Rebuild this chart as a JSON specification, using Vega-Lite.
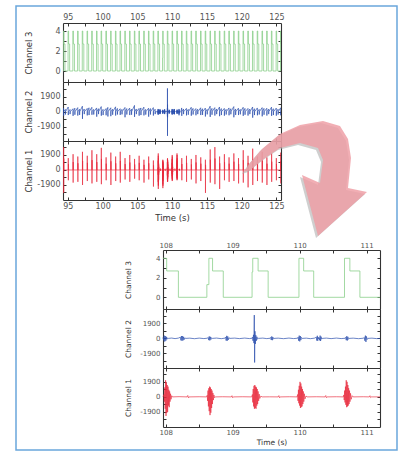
{
"$schema": "https://vega.github.io/schema/vega-lite/v6.json",
"padding": {"left": 15, "top": 5, "right": 9, "bottom": 2},
"background": "white",
"config": {
  "view": {"stroke": null},
  "axis": {"labelFont": "DejaVu Sans", "titleFont": "DejaVu Sans", "labelColor": "#555", "titleColor": "#333", "titleFontWeight": "normal", "tickColor": "#333", "tickSize": -3, "tickWidth": 1, "domain": true, "domainColor": "#333", "domainWidth": 1.1, "grid": false, "labelFlush": false, "labelOverlap": false, "labelFontSize": 8, "titleFontSize": 8.5}
},
"datasets": {
"ch3": [{"t":94.3,"v":0},
{"t":94.36,"v":4},{"t":94.435,"v":2.7},{"t":94.585,"v":0},
{"t":95.03,"v":4},{"t":95.105,"v":2.7},{"t":95.255,"v":0},
{"t":95.72,"v":4},{"t":95.795,"v":2.7},{"t":95.945,"v":0},
{"t":96.4,"v":4},{"t":96.475,"v":2.7},{"t":96.625,"v":0},
{"t":97.07,"v":4},{"t":97.145,"v":2.7},{"t":97.295,"v":0},
{"t":97.76,"v":4},{"t":97.835,"v":2.7},{"t":97.985,"v":0},
{"t":98.43,"v":4},{"t":98.505,"v":2.7},{"t":98.655,"v":0},
{"t":99.12,"v":4},{"t":99.195,"v":2.7},{"t":99.345,"v":0},
{"t":99.78,"v":4},{"t":99.855,"v":2.7},{"t":100.005,"v":0},
{"t":100.47,"v":4},{"t":100.545,"v":2.7},{"t":100.695,"v":0},
{"t":101.15,"v":4},{"t":101.225,"v":2.7},{"t":101.375,"v":0},
{"t":101.84,"v":4},{"t":101.915,"v":2.7},{"t":102.065,"v":0},
{"t":102.5,"v":4},{"t":102.575,"v":2.7},{"t":102.725,"v":0},
{"t":103.19,"v":4},{"t":103.265,"v":2.7},{"t":103.415,"v":0},
{"t":103.87,"v":4},{"t":103.945,"v":2.7},{"t":104.095,"v":0},
{"t":104.56,"v":4},{"t":104.635,"v":2.7},{"t":104.785,"v":0},
{"t":105.22,"v":4},{"t":105.295,"v":2.7},{"t":105.445,"v":0},
{"t":105.91,"v":4},{"t":105.985,"v":2.7},{"t":106.135,"v":0},
{"t":106.59,"v":4},{"t":106.665,"v":2.7},{"t":106.815,"v":0},
{"t":107.27,"v":4},{"t":107.345,"v":2.7},{"t":107.495,"v":0},
{"t":107.95,"v":4},{"t":107.96,"v":4},{"t":108.015,"v":2.7},{"t":108.19,"v":0},
{"t":108.615,"v":1.3},{"t":108.645,"v":4},{"t":108.7,"v":2.7},{"t":108.86,"v":0},
{"t":109.29,"v":2.6},{"t":109.3,"v":4},{"t":109.38,"v":2.7},{"t":109.53,"v":0},
{"t":109.99,"v":4},{"t":110.06,"v":2.7},{"t":110.21,"v":0},
{"t":110.67,"v":4},{"t":110.75,"v":2.7},{"t":110.9,"v":0},{"t":111.2,"v":0},
{"t":111.35,"v":4},{"t":111.425,"v":2.7},{"t":111.575,"v":0},
{"t":112.03,"v":4},{"t":112.105,"v":2.7},{"t":112.255,"v":0},
{"t":112.72,"v":4},{"t":112.795,"v":2.7},{"t":112.945,"v":0},
{"t":113.39,"v":4},{"t":113.465,"v":2.7},{"t":113.615,"v":0},
{"t":114.08,"v":4},{"t":114.155,"v":2.7},{"t":114.305,"v":0},
{"t":114.75,"v":4},{"t":114.825,"v":2.7},{"t":114.975,"v":0},
{"t":115.44,"v":4},{"t":115.515,"v":2.7},{"t":115.665,"v":0},
{"t":116.11,"v":4},{"t":116.185,"v":2.7},{"t":116.335,"v":0},
{"t":116.79,"v":4},{"t":116.865,"v":2.7},{"t":117.015,"v":0},
{"t":117.48,"v":4},{"t":117.555,"v":2.7},{"t":117.705,"v":0},
{"t":118.15,"v":4},{"t":118.225,"v":2.7},{"t":118.375,"v":0},
{"t":118.84,"v":4},{"t":118.915,"v":2.7},{"t":119.065,"v":0},
{"t":119.51,"v":4},{"t":119.585,"v":2.7},{"t":119.735,"v":0},
{"t":120.19,"v":4},{"t":120.265,"v":2.7},{"t":120.415,"v":0},
{"t":120.88,"v":4},{"t":120.955,"v":2.7},{"t":121.105,"v":0},
{"t":121.55,"v":4},{"t":121.625,"v":2.7},{"t":121.775,"v":0},
{"t":122.23,"v":4},{"t":122.305,"v":2.7},{"t":122.455,"v":0},
{"t":122.92,"v":4},{"t":122.995,"v":2.7},{"t":123.145,"v":0},
{"t":123.59,"v":4},{"t":123.665,"v":2.7},{"t":123.815,"v":0},
{"t":124.27,"v":4},{"t":124.345,"v":2.7},{"t":124.495,"v":0},
{"t":124.95,"v":4},{"t":125.025,"v":2.7},{"t":125.175,"v":0},
{"t":125.58,"v":4},{"t":125.655,"v":2.7},{"t":125.805,"v":0}],
"ch2": [{"t":94.3,"v":0},
{"t":94.38,"v":450},{"t":94.39,"v":-500},{"t":94.4,"v":0},{"t":94.64,"v":300},{"t":94.65,"v":-350},{"t":94.66,"v":0},
{"t":95.05,"v":600},{"t":95.06,"v":-420},{"t":95.07,"v":0},{"t":95.31,"v":280},{"t":95.32,"v":-300},{"t":95.33,"v":0},
{"t":95.74,"v":380},{"t":95.75,"v":-520},{"t":95.76,"v":0},{"t":96.0,"v":450},{"t":96.01,"v":-380},{"t":96.02,"v":0},
{"t":96.42,"v":520},{"t":96.43,"v":-480},{"t":96.44,"v":0},{"t":96.68,"v":320},{"t":96.69,"v":-400},{"t":96.7,"v":0},
{"t":97.09,"v":700},{"t":97.1,"v":-900},{"t":97.11,"v":0},{"t":97.35,"v":350},{"t":97.36,"v":-300},{"t":97.37,"v":0},
{"t":97.78,"v":420},{"t":97.79,"v":-460},{"t":97.8,"v":0},{"t":98.04,"v":500},{"t":98.05,"v":-420},{"t":98.06,"v":0},
{"t":98.45,"v":560},{"t":98.46,"v":-380},{"t":98.47,"v":0},{"t":98.71,"v":300},{"t":98.72,"v":-350},{"t":98.73,"v":0},
{"t":99.14,"v":480},{"t":99.15,"v":-620},{"t":99.16,"v":0},{"t":99.4,"v":380},{"t":99.41,"v":-300},{"t":99.42,"v":0},
{"t":99.8,"v":650},{"t":99.81,"v":-500},{"t":99.82,"v":0},{"t":100.06,"v":300},{"t":100.07,"v":-420},{"t":100.08,"v":0},
{"t":100.49,"v":400},{"t":100.5,"v":-450},{"t":100.51,"v":0},{"t":100.75,"v":550},{"t":100.76,"v":-600},{"t":100.77,"v":0},
{"t":101.17,"v":500},{"t":101.18,"v":-560},{"t":101.19,"v":0},{"t":101.43,"v":320},{"t":101.44,"v":-380},{"t":101.45,"v":0},
{"t":101.86,"v":620},{"t":101.87,"v":-480},{"t":101.88,"v":0},{"t":102.12,"v":420},{"t":102.13,"v":-350},{"t":102.14,"v":0},
{"t":102.52,"v":380},{"t":102.53,"v":-400},{"t":102.54,"v":0},{"t":102.78,"v":300},{"t":102.79,"v":-330},{"t":102.8,"v":0},
{"t":103.21,"v":540},{"t":103.22,"v":-700},{"t":103.23,"v":0},{"t":103.47,"v":400},{"t":103.48,"v":-350},{"t":103.49,"v":0},
{"t":103.89,"v":460},{"t":103.9,"v":-420},{"t":103.91,"v":0},{"t":104.15,"v":330},{"t":104.16,"v":-380},{"t":104.17,"v":0},
{"t":104.58,"v":800},{"t":104.59,"v":-650},{"t":104.6,"v":0},{"t":104.84,"v":350},{"t":104.85,"v":-300},{"t":104.86,"v":0},
{"t":105.24,"v":420},{"t":105.25,"v":-500},{"t":105.26,"v":0},{"t":105.5,"v":480},{"t":105.51,"v":-420},{"t":105.52,"v":0},
{"t":105.93,"v":580},{"t":105.94,"v":-460},{"t":105.95,"v":0},{"t":106.19,"v":300},{"t":106.2,"v":-360},{"t":106.21,"v":0},
{"t":106.61,"v":450},{"t":106.62,"v":-620},{"t":106.63,"v":0},{"t":106.87,"v":400},{"t":106.88,"v":-350},{"t":106.89,"v":0},
{"t":107.29,"v":520},{"t":107.3,"v":-480},{"t":107.31,"v":0},{"t":107.55,"v":320},{"t":107.56,"v":-300},{"t":107.57,"v":0},
{"t":107.9,"v":0},{"t":107.96,"v":0},
{"t":107.962,"v":100},{"t":107.97,"v":-250},{"t":107.978,"v":350},{"t":107.986,"v":-400},{"t":107.994,"v":300},{"t":108.002,"v":-300},{"t":108.01,"v":200},{"t":108.018,"v":-120},{"t":108.028,"v":60},{"t":108.04,"v":0},
{"t":108.09,"v":40},{"t":108.14,"v":-30},{"t":108.19,"v":35},
{"t":108.22,"v":150},{"t":108.228,"v":-250},{"t":108.236,"v":300},{"t":108.244,"v":-300},{"t":108.252,"v":280},{"t":108.26,"v":-250},{"t":108.268,"v":200},{"t":108.277,"v":-150},{"t":108.287,"v":60},{"t":108.3,"v":0},
{"t":108.36,"v":30},{"t":108.43,"v":-40},{"t":108.5,"v":35},{"t":108.57,"v":-25},{"t":108.62,"v":20},
{"t":108.635,"v":120},{"t":108.643,"v":-220},{"t":108.651,"v":250},{"t":108.659,"v":-260},{"t":108.667,"v":200},{"t":108.675,"v":-150},{"t":108.685,"v":80},{"t":108.697,"v":0},
{"t":108.76,"v":40},{"t":108.83,"v":-35},{"t":108.885,"v":30},
{"t":108.895,"v":150},{"t":108.903,"v":-280},{"t":108.911,"v":320},{"t":108.919,"v":-300},{"t":108.927,"v":250},{"t":108.935,"v":-180},{"t":108.945,"v":90},{"t":108.957,"v":0},
{"t":109.03,"v":35},{"t":109.1,"v":-30},{"t":109.18,"v":40},{"t":109.25,"v":-25},{"t":109.29,"v":20},
{"t":109.297,"v":150},{"t":109.304,"v":-300},{"t":109.311,"v":450},{"t":109.318,"v":-600},{"t":109.323,"v":2950},{"t":109.328,"v":-3050},{"t":109.333,"v":900},{"t":109.339,"v":-700},{"t":109.346,"v":400},{"t":109.354,"v":-300},{"t":109.362,"v":200},{"t":109.372,"v":-100},{"t":109.385,"v":0},
{"t":109.45,"v":35},{"t":109.51,"v":-30},{"t":109.56,"v":20},
{"t":109.568,"v":120},{"t":109.576,"v":-200},{"t":109.584,"v":250},{"t":109.592,"v":-230},{"t":109.6,"v":170},{"t":109.609,"v":-100},{"t":109.62,"v":0},
{"t":109.68,"v":30},{"t":109.76,"v":-35},{"t":109.84,"v":40},{"t":109.91,"v":-25},{"t":109.97,"v":20},
{"t":109.978,"v":150},{"t":109.986,"v":-300},{"t":109.994,"v":350},{"t":110.002,"v":-380},{"t":110.01,"v":300},{"t":110.018,"v":-220},{"t":110.027,"v":120},{"t":110.038,"v":0},
{"t":110.1,"v":30},{"t":110.16,"v":-35},{"t":110.22,"v":25},
{"t":110.25,"v":150},{"t":110.257,"v":-280},{"t":110.264,"v":330},{"t":110.271,"v":-300},{"t":110.278,"v":150},{"t":110.285,"v":-60},{"t":110.292,"v":80},{"t":110.299,"v":-250},{"t":110.306,"v":350},{"t":110.313,"v":-330},{"t":110.32,"v":220},{"t":110.328,"v":-100},{"t":110.338,"v":0},
{"t":110.4,"v":35},{"t":110.47,"v":-30},{"t":110.55,"v":40},{"t":110.62,"v":-25},{"t":110.68,"v":15},
{"t":110.688,"v":130},{"t":110.696,"v":-230},{"t":110.704,"v":280},{"t":110.712,"v":-270},{"t":110.72,"v":200},{"t":110.729,"v":-120},{"t":110.74,"v":0},
{"t":110.8,"v":30},{"t":110.88,"v":-35},{"t":110.95,"v":20},
{"t":110.966,"v":120},{"t":110.974,"v":-300},{"t":110.982,"v":350},{"t":110.99,"v":-450},{"t":110.998,"v":250},{"t":111.007,"v":-150},{"t":111.018,"v":0},
{"t":111.08,"v":30},{"t":111.15,"v":-30},{"t":111.2,"v":-10},{"t":111.25,"v":0},
{"t":111.37,"v":480},{"t":111.38,"v":-520},{"t":111.39,"v":0},{"t":111.63,"v":350},{"t":111.64,"v":-300},{"t":111.65,"v":0},
{"t":112.05,"v":420},{"t":112.06,"v":-460},{"t":112.07,"v":0},{"t":112.31,"v":300},{"t":112.32,"v":-380},{"t":112.33,"v":0},
{"t":112.74,"v":560},{"t":112.75,"v":-500},{"t":112.76,"v":0},{"t":113.0,"v":420},{"t":113.01,"v":-350},{"t":113.02,"v":0},
{"t":113.41,"v":400},{"t":113.42,"v":-450},{"t":113.43,"v":0},{"t":113.67,"v":320},{"t":113.68,"v":-300},{"t":113.69,"v":0},
{"t":114.1,"v":500},{"t":114.11,"v":-420},{"t":114.12,"v":0},{"t":114.36,"v":380},{"t":114.37,"v":-400},{"t":114.38,"v":0},
{"t":114.77,"v":460},{"t":114.78,"v":-600},{"t":114.79,"v":0},{"t":115.03,"v":300},{"t":115.04,"v":-330},{"t":115.05,"v":0},
{"t":115.46,"v":700},{"t":115.47,"v":-650},{"t":115.48,"v":0},{"t":115.72,"v":420},{"t":115.73,"v":-380},{"t":115.74,"v":0},
{"t":116.13,"v":520},{"t":116.14,"v":-480},{"t":116.15,"v":0},{"t":116.39,"v":350},{"t":116.4,"v":-300},{"t":116.41,"v":0},
{"t":116.81,"v":600},{"t":116.82,"v":-560},{"t":116.83,"v":0},{"t":117.07,"v":400},{"t":117.08,"v":-420},{"t":117.09,"v":0},
{"t":117.5,"v":420},{"t":117.51,"v":-500},{"t":117.52,"v":0},{"t":117.76,"v":300},{"t":117.77,"v":-350},{"t":117.78,"v":0},
{"t":118.17,"v":480},{"t":118.18,"v":-450},{"t":118.19,"v":0},{"t":118.43,"v":380},{"t":118.44,"v":-320},{"t":118.45,"v":0},
{"t":118.86,"v":650},{"t":118.87,"v":-700},{"t":118.88,"v":0},{"t":119.12,"v":350},{"t":119.13,"v":-400},{"t":119.14,"v":0},
{"t":119.53,"v":450},{"t":119.54,"v":-420},{"t":119.55,"v":0},{"t":119.79,"v":300},{"t":119.8,"v":-330},{"t":119.81,"v":0},
{"t":120.21,"v":560},{"t":120.22,"v":-520},{"t":120.23,"v":0},{"t":120.47,"v":420},{"t":120.48,"v":-380},{"t":120.49,"v":0},
{"t":120.9,"v":420},{"t":120.91,"v":-480},{"t":120.92,"v":0},{"t":121.16,"v":330},{"t":121.17,"v":-300},{"t":121.18,"v":0},
{"t":121.57,"v":600},{"t":121.58,"v":-750},{"t":121.59,"v":0},{"t":121.83,"v":380},{"t":121.84,"v":-420},{"t":121.85,"v":0},
{"t":122.25,"v":480},{"t":122.26,"v":-450},{"t":122.27,"v":0},{"t":122.51,"v":300},{"t":122.52,"v":-350},{"t":122.53,"v":0},
{"t":122.94,"v":520},{"t":122.95,"v":-580},{"t":122.96,"v":0},{"t":123.2,"v":420},{"t":123.21,"v":-380},{"t":123.22,"v":0},
{"t":123.61,"v":440},{"t":123.62,"v":-480},{"t":123.63,"v":0},{"t":123.87,"v":330},{"t":123.88,"v":-300},{"t":123.89,"v":0},
{"t":124.29,"v":580},{"t":124.3,"v":-520},{"t":124.31,"v":0},{"t":124.55,"v":380},{"t":124.56,"v":-420},{"t":124.57,"v":0},
{"t":124.97,"v":460},{"t":124.98,"v":-500},{"t":124.99,"v":0},{"t":125.23,"v":320},{"t":125.24,"v":-350},{"t":125.25,"v":0},
{"t":125.6,"v":500},{"t":125.61,"v":-450},{"t":125.62,"v":0},{"t":125.7,"v":0}],
"ch1": [{"t":94.3,"v":0},
{"t":94.38,"v":0},{"t":94.39,"v":2900},{"t":94.4,"v":-2900},{"t":94.41,"v":1450},{"t":94.43,"v":0},
{"t":95.05,"v":0},{"t":95.06,"v":1500},{"t":95.07,"v":-1300},{"t":95.08,"v":750},{"t":95.1,"v":0},
{"t":95.74,"v":0},{"t":95.75,"v":2000},{"t":95.76,"v":-1600},{"t":95.77,"v":1000},{"t":95.79,"v":0},
{"t":96.42,"v":0},{"t":96.43,"v":1700},{"t":96.44,"v":-1500},{"t":96.45,"v":850},{"t":96.47,"v":0},
{"t":97.09,"v":0},{"t":97.1,"v":2300},{"t":97.11,"v":-1900},{"t":97.12,"v":1150},{"t":97.14,"v":0},
{"t":97.78,"v":0},{"t":97.79,"v":1800},{"t":97.8,"v":-1400},{"t":97.81,"v":900},{"t":97.83,"v":0},
{"t":98.45,"v":0},{"t":98.46,"v":2500},{"t":98.47,"v":-1700},{"t":98.48,"v":1250},{"t":98.5,"v":0},
{"t":99.14,"v":0},{"t":99.15,"v":2000},{"t":99.16,"v":-1500},{"t":99.17,"v":1000},{"t":99.19,"v":0},
{"t":99.8,"v":0},{"t":99.81,"v":2800},{"t":99.82,"v":-1800},{"t":99.83,"v":1400},{"t":99.85,"v":0},
{"t":100.49,"v":0},{"t":100.5,"v":1600},{"t":100.51,"v":-1300},{"t":100.52,"v":800},{"t":100.54,"v":0},
{"t":101.17,"v":0},{"t":101.18,"v":2200},{"t":101.19,"v":-1900},{"t":101.2,"v":1100},{"t":101.22,"v":0},
{"t":101.86,"v":0},{"t":101.87,"v":1700},{"t":101.88,"v":-1400},{"t":101.89,"v":850},{"t":101.91,"v":0},
{"t":102.52,"v":0},{"t":102.53,"v":2300},{"t":102.54,"v":-1600},{"t":102.55,"v":1150},{"t":102.57,"v":0},
{"t":103.21,"v":0},{"t":103.22,"v":1500},{"t":103.23,"v":-1200},{"t":103.24,"v":750},{"t":103.26,"v":0},
{"t":103.89,"v":0},{"t":103.9,"v":1900},{"t":103.91,"v":-1500},{"t":103.92,"v":950},{"t":103.94,"v":0},
{"t":104.58,"v":0},{"t":104.59,"v":1400},{"t":104.6,"v":-1100},{"t":104.61,"v":700},{"t":104.63,"v":0},
{"t":105.24,"v":0},{"t":105.25,"v":1800},{"t":105.26,"v":-1300},{"t":105.27,"v":900},{"t":105.29,"v":0},
{"t":105.93,"v":0},{"t":105.94,"v":1300},{"t":105.95,"v":-1600},{"t":105.96,"v":650},{"t":105.98,"v":0},
{"t":106.61,"v":0},{"t":106.62,"v":1700},{"t":106.63,"v":-1200},{"t":106.64,"v":850},{"t":106.66,"v":0},
{"t":107.29,"v":0},{"t":107.3,"v":1200},{"t":107.31,"v":-2100},{"t":107.32,"v":600},{"t":107.34,"v":0},
{"t":107.9,"v":0},{"t":107.96,"v":20},
{"t":107.975,"v":300},{"t":107.981,"v":-600},{"t":107.987,"v":1200},{"t":107.993,"v":-1500},{"t":107.999,"v":2100},{"t":108.005,"v":-2400},{"t":108.011,"v":1800},{"t":108.017,"v":-2000},{"t":108.023,"v":1500},{"t":108.029,"v":-1900},{"t":108.035,"v":1300},{"t":108.041,"v":-1100},{"t":108.047,"v":900},{"t":108.053,"v":-1300},{"t":108.059,"v":700},{"t":108.065,"v":-600},{"t":108.072,"v":400},{"t":108.08,"v":-300},{"t":108.09,"v":150},{"t":108.1,"v":0},
{"t":108.2,"v":30},{"t":108.32,"v":0},{"t":108.33,"v":180},{"t":108.34,"v":-120},{"t":108.35,"v":0},{"t":108.5,"v":20},{"t":108.61,"v":0},
{"t":108.62,"v":200},{"t":108.626,"v":-500},{"t":108.632,"v":800},{"t":108.638,"v":-1200},{"t":108.644,"v":1100},{"t":108.65,"v":-1800},{"t":108.656,"v":1300},{"t":108.662,"v":-2300},{"t":108.668,"v":1200},{"t":108.674,"v":-2000},{"t":108.68,"v":1000},{"t":108.686,"v":-1400},{"t":108.692,"v":800},{"t":108.698,"v":-900},{"t":108.705,"v":500},{"t":108.712,"v":-400},{"t":108.72,"v":250},{"t":108.73,"v":-100},{"t":108.74,"v":0},
{"t":108.85,"v":20},{"t":108.98,"v":0},{"t":108.99,"v":150},{"t":109.0,"v":-100},{"t":109.01,"v":0},{"t":109.15,"v":20},{"t":109.285,"v":0},
{"t":109.295,"v":300},{"t":109.301,"v":-700},{"t":109.307,"v":1000},{"t":109.313,"v":-1200},{"t":109.319,"v":1400},{"t":109.325,"v":-1500},{"t":109.331,"v":1500},{"t":109.337,"v":-1400},{"t":109.343,"v":1300},{"t":109.349,"v":-1500},{"t":109.355,"v":1200},{"t":109.361,"v":-1100},{"t":109.367,"v":1000},{"t":109.373,"v":-900},{"t":109.38,"v":700},{"t":109.388,"v":-500},{"t":109.396,"v":350},{"t":109.405,"v":-200},{"t":109.42,"v":100},{"t":109.44,"v":0},
{"t":109.55,"v":10},{"t":109.68,"v":0},{"t":109.69,"v":160},{"t":109.7,"v":-110},{"t":109.71,"v":0},{"t":109.85,"v":20},{"t":109.962,"v":0},
{"t":109.97,"v":300},{"t":109.976,"v":-500},{"t":109.982,"v":900},{"t":109.988,"v":-800},{"t":109.994,"v":1400},{"t":110.0,"v":-1100},{"t":110.006,"v":1900},{"t":110.012,"v":-1400},{"t":110.018,"v":1700},{"t":110.024,"v":-1300},{"t":110.03,"v":1300},{"t":110.036,"v":-1200},{"t":110.042,"v":1000},{"t":110.048,"v":-900},{"t":110.055,"v":700},{"t":110.062,"v":-600},{"t":110.07,"v":400},{"t":110.08,"v":-250},{"t":110.095,"v":120},{"t":110.11,"v":0},
{"t":110.25,"v":20},{"t":110.38,"v":0},{"t":110.39,"v":170},{"t":110.4,"v":-100},{"t":110.41,"v":0},{"t":110.55,"v":20},{"t":110.652,"v":0},
{"t":110.66,"v":250},{"t":110.666,"v":-400},{"t":110.672,"v":800},{"t":110.678,"v":-700},{"t":110.684,"v":1300},{"t":110.69,"v":-1000},{"t":110.696,"v":2100},{"t":110.702,"v":-1300},{"t":110.708,"v":1900},{"t":110.714,"v":-1200},{"t":110.72,"v":1500},{"t":110.726,"v":-1100},{"t":110.732,"v":1100},{"t":110.738,"v":-900},{"t":110.745,"v":800},{"t":110.752,"v":-600},{"t":110.76,"v":450},{"t":110.77,"v":-300},{"t":110.785,"v":150},{"t":110.8,"v":0},
{"t":110.95,"v":20},{"t":111.04,"v":0},{"t":111.05,"v":150},{"t":111.06,"v":-80},{"t":111.07,"v":0},{"t":111.2,"v":5},{"t":111.25,"v":10},
{"t":111.37,"v":0},{"t":111.38,"v":1500},{"t":111.39,"v":-1300},{"t":111.4,"v":750},{"t":111.42,"v":0},
{"t":112.05,"v":0},{"t":112.06,"v":1800},{"t":112.07,"v":-1500},{"t":112.08,"v":900},{"t":112.1,"v":0},
{"t":112.74,"v":0},{"t":112.75,"v":1400},{"t":112.76,"v":-1200},{"t":112.77,"v":700},{"t":112.79,"v":0},
{"t":113.41,"v":0},{"t":113.42,"v":1900},{"t":113.43,"v":-1700},{"t":113.44,"v":950},{"t":113.46,"v":0},
{"t":114.1,"v":0},{"t":114.11,"v":1600},{"t":114.12,"v":-1400},{"t":114.13,"v":800},{"t":114.15,"v":0},
{"t":114.77,"v":0},{"t":114.78,"v":1300},{"t":114.79,"v":-2900},{"t":114.8,"v":650},{"t":114.82,"v":0},
{"t":115.46,"v":0},{"t":115.47,"v":2600},{"t":115.48,"v":-1600},{"t":115.49,"v":1300},{"t":115.51,"v":0},
{"t":116.13,"v":0},{"t":116.14,"v":2900},{"t":116.15,"v":-1800},{"t":116.16,"v":1450},{"t":116.18,"v":0},
{"t":116.81,"v":0},{"t":116.82,"v":1700},{"t":116.83,"v":-2400},{"t":116.84,"v":850},{"t":116.86,"v":0},
{"t":117.5,"v":0},{"t":117.51,"v":2000},{"t":117.52,"v":-1300},{"t":117.53,"v":1000},{"t":117.55,"v":0},
{"t":118.17,"v":0},{"t":118.18,"v":1600},{"t":118.19,"v":-1500},{"t":118.2,"v":800},{"t":118.22,"v":0},
{"t":118.86,"v":0},{"t":118.87,"v":2100},{"t":118.88,"v":-1400},{"t":118.89,"v":1050},{"t":118.91,"v":0},
{"t":119.53,"v":0},{"t":119.54,"v":1500},{"t":119.55,"v":-1700},{"t":119.56,"v":750},{"t":119.58,"v":0},
{"t":120.21,"v":0},{"t":120.22,"v":2500},{"t":120.23,"v":-1600},{"t":120.24,"v":1250},{"t":120.26,"v":0},
{"t":120.9,"v":0},{"t":120.91,"v":1800},{"t":120.92,"v":-2200},{"t":120.93,"v":900},{"t":120.95,"v":0},
{"t":121.57,"v":0},{"t":121.58,"v":2700},{"t":121.59,"v":-1900},{"t":121.6,"v":1350},{"t":121.62,"v":0},
{"t":122.25,"v":0},{"t":122.26,"v":1700},{"t":122.27,"v":-1400},{"t":122.28,"v":850},{"t":122.3,"v":0},
{"t":122.94,"v":0},{"t":122.95,"v":2300},{"t":122.96,"v":-1600},{"t":122.97,"v":1150},{"t":122.99,"v":0},
{"t":123.61,"v":0},{"t":123.62,"v":1600},{"t":123.63,"v":-1900},{"t":123.64,"v":800},{"t":123.66,"v":0},
{"t":124.29,"v":0},{"t":124.3,"v":2100},{"t":124.31,"v":-1500},{"t":124.32,"v":1050},{"t":124.34,"v":0},
{"t":124.97,"v":0},{"t":124.98,"v":1500},{"t":124.99,"v":-1300},{"t":125.0,"v":750},{"t":125.02,"v":0},
{"t":125.6,"v":0},{"t":125.61,"v":2200},{"t":125.62,"v":-1700},{"t":125.63,"v":1100},{"t":125.65,"v":0}],
"arrow": [{"i":1,"x":181,"y":-28},{"i":2,"x":187,"y":-37},{"i":3,"x":199,"y":-51},{"i":4,"x":217,"y":-66},{"i":5,"x":237,"y":-75},{"i":6,"x":260,"y":-79},{"i":7,"x":277,"y":-74},{"i":8,"x":285,"y":-61},{"i":9,"x":288,"y":-42},{"i":10,"x":286,"y":-22},{"i":11,"x":285,"y":-12},{"i":12,"x":304,"y":-8},{"i":13,"x":255,"y":36},{"i":14,"x":239,"y":-25},{"i":15,"x":257,"y":-17},{"i":16,"x":260,"y":-40},{"i":17,"x":255,"y":-52},{"i":18,"x":237,"y":-57},{"i":19,"x":217,"y":-52},{"i":20,"x":202,"y":-42},{"i":21,"x":187,"y":-30}],
"frame": [{"x1":-47,"x2":334,"y1":-194,"y2":250}]
},
"spacing": 0,
"bounds": "flush",
"vconcat": [
  {"width": 218, "height": 59, "data": {"name": "ch3"},
   "layer": [
    {"mark": {"type": "line", "interpolate": "step-after", "color": "#8ccf8c", "strokeWidth": 0.8, "clip": true},
     "encoding": {
      "x": {"field": "t", "type": "quantitative", "scale": {"domain": [94.3, 125.65], "nice": false, "zero": false},
            "axis": {"orient": "top", "values": [95,97.5,100,102.5,105,107.5,110,112.5,115,117.5,120,122.5,125], "labelExpr": "datum.value % 5 == 0 ? '' + datum.value : ''", "title": null, "labelPadding": 5}},
      "y": {"field": "v", "type": "quantitative", "scale": {"domain": [-1.1, 4.8], "nice": false, "zero": false},
            "axis": {"orient": "left", "values": [0,1,2,3,4], "labelExpr": "datum.value % 2 == 0 ? '' + datum.value : ''", "title": "Channel 3", "labelPadding": 6, "minExtent": 27, "maxExtent": 27, "titlePadding": 3}}}},
    {"mark": {"type": "line", "opacity": 0, "clip": true},
     "encoding": {
      "x": {"field": "t", "type": "quantitative", "axis": {"orient": "bottom", "values": [95,97.5,100,102.5,105,107.5,110,112.5,115,117.5,120,122.5,125], "labels": false, "title": null}},
      "y": {"field": "v", "type": "quantitative", "axis": {"orient": "right", "values": [0,1,2,3,4], "labels": false, "title": null}}}}
   ],
   "resolve": {"axis": {"x": "independent", "y": "independent"}}},
  {"width": 218, "height": 59, "data": {"name": "ch2"},
   "layer": [
    {"mark": {"type": "line", "color": "#2b4fae", "strokeWidth": 0.7, "clip": true},
     "encoding": {
      "x": {"field": "t", "type": "quantitative", "scale": {"domain": [94.3, 125.65], "nice": false, "zero": false},
            "axis": {"orient": "top", "values": [95,97.5,100,102.5,105,107.5,110,112.5,115,117.5,120,122.5,125], "labels": false, "title": null}},
      "y": {"field": "v", "type": "quantitative", "scale": {"domain": [-3700, 3760], "nice": false, "zero": false},
            "axis": {"orient": "left", "values": [-2850,-1900,-950,0,950,1900,2850], "labelExpr": "abs(datum.value) % 1900 == 0 ? '' + datum.value : ''", "title": "Channel 2", "labelPadding": 6, "minExtent": 27, "maxExtent": 27, "titlePadding": 3}}}},
    {"mark": {"type": "line", "opacity": 0, "clip": true},
     "encoding": {
      "x": {"field": "t", "type": "quantitative", "axis": {"orient": "bottom", "values": [95,97.5,100,102.5,105,107.5,110,112.5,115,117.5,120,122.5,125], "labels": false, "title": null}},
      "y": {"field": "v", "type": "quantitative", "axis": {"orient": "right", "values": [-2850,-1900,-950,0,950,1900,2850], "labels": false, "title": null}}}}
   ],
   "resolve": {"axis": {"x": "independent", "y": "independent"}}},
  {"width": 218, "height": 59, "data": {"name": "ch1"},
   "layer": [
    {"mark": {"type": "line", "color": "#e8283a", "strokeWidth": 0.65, "clip": true},
     "encoding": {
      "x": {"field": "t", "type": "quantitative", "scale": {"domain": [94.3, 125.65], "nice": false, "zero": false},
            "axis": {"orient": "top", "values": [95,97.5,100,102.5,105,107.5,110,112.5,115,117.5,120,122.5,125], "labels": false, "title": null}},
      "y": {"field": "v", "type": "quantitative", "scale": {"domain": [-3800, 3670], "nice": false, "zero": false},
            "axis": {"orient": "left", "values": [-2850,-1900,-950,0,950,1900,2850], "labelExpr": "abs(datum.value) % 1900 == 0 ? '' + datum.value : ''", "title": "Channel 1", "labelPadding": 6, "minExtent": 27, "maxExtent": 27, "titlePadding": 3}}}},
    {"mark": {"type": "line", "opacity": 0, "clip": true},
     "encoding": {
      "x": {"field": "t", "type": "quantitative", "axis": {"orient": "bottom", "values": [95,97.5,100,102.5,105,107.5,110,112.5,115,117.5,120,122.5,125], "labelExpr": "datum.value % 5 == 0 ? '' + datum.value : ''", "title": "Time (s)", "labelPadding": 5, "titlePadding": 3}},
      "y": {"field": "v", "type": "quantitative", "axis": {"orient": "right", "values": [-2850,-1900,-950,0,950,1900,2850], "labels": false, "title": null}}}}
   ],
   "resolve": {"axis": {"x": "independent", "y": "independent"}}},
  {"width": 317, "height": 50,
   "layer": [
    {"data": {"name": "frame"}, "mark": {"type": "rect", "filled": false, "stroke": "#6aa6dc", "strokeWidth": 1.5},
     "encoding": {
      "x": {"field": "x1", "type": "quantitative", "scale": {"domain": [0, 317], "nice": false, "zero": false}, "axis": null},
      "x2": {"field": "x2"},
      "y": {"field": "y1", "type": "quantitative", "scale": {"domain": [0, 50], "nice": false, "zero": false, "reverse": true}, "axis": null},
      "y2": {"field": "y2"}}},
    {"data": {"name": "arrow"}, "mark": {"type": "line", "filled": true, "color": "#a8a8a8", "opacity": 0.55, "xOffset": -2, "yOffset": 2, "strokeWidth": 0},
     "encoding": {
      "x": {"field": "x", "type": "quantitative", "axis": null},
      "y": {"field": "y", "type": "quantitative", "axis": null},
      "order": {"field": "i"}}},
    {"data": {"name": "arrow"}, "mark": {"type": "line", "filled": true, "color": "#ee9ca4", "opacity": 0.82, "strokeWidth": 0},
     "encoding": {
      "x": {"field": "x", "type": "quantitative", "axis": null},
      "y": {"field": "y", "type": "quantitative", "axis": null},
      "order": {"field": "i"}}}
   ]},
  {"width": 317, "height": 59, "data": {"name": "ch3"},
   "transform": [{"filter": "datum.t >= 107.96 && datum.t <= 111.2"}],
   "layer": [
    {"mark": {"type": "line", "interpolate": "step-after", "color": "#8ccf8c", "strokeWidth": 0.8, "clip": true},
     "encoding": {
      "x": {"field": "t", "type": "quantitative", "scale": {"domain": [107.96, 111.2], "range": [100, 317], "nice": false, "zero": false},
            "axis": {"orient": "top", "values": [108,108.5,109,109.5,110,110.5,111], "labelExpr": "datum.value % 1 == 0 ? '' + datum.value : ''", "title": null, "labelPadding": 5, "labelFontSize": 7}},
      "y": {"field": "v", "type": "quantitative", "scale": {"domain": [-1.2, 4.85], "nice": false, "zero": false},
            "axis": {"orient": "left", "offset": -100, "values": [0,1,2,3,4], "labelExpr": "datum.value % 2 == 0 ? '' + datum.value : ''", "title": "Channel 3", "labelPadding": 6, "minExtent": 28, "maxExtent": 28, "titlePadding": 3, "labelFontSize": 7, "titleFontSize": 7.5}}}},
    {"mark": {"type": "line", "opacity": 0, "clip": true},
     "encoding": {
      "x": {"field": "t", "type": "quantitative", "axis": {"orient": "bottom", "values": [108,108.5,109,109.5,110,110.5,111], "labels": false, "title": null}},
      "y": {"field": "v", "type": "quantitative", "axis": {"orient": "right", "values": [0,1,2,3,4], "labels": false, "title": null}}}}
   ],
   "resolve": {"axis": {"x": "independent", "y": "independent"}}},
  {"width": 317, "height": 59, "data": {"name": "ch2"},
   "transform": [{"filter": "datum.t >= 107.96 && datum.t <= 111.2"}],
   "layer": [
    {"mark": {"type": "line", "color": "#2b4fae", "strokeWidth": 0.7, "clip": true},
     "encoding": {
      "x": {"field": "t", "type": "quantitative", "scale": {"domain": [107.96, 111.2], "range": [100, 317], "nice": false, "zero": false},
            "axis": {"orient": "top", "values": [108,108.5,109,109.5,110,110.5,111], "labels": false, "title": null}},
      "y": {"field": "v", "type": "quantitative", "scale": {"domain": [-3750, 3720], "nice": false, "zero": false},
            "axis": {"orient": "left", "offset": -100, "values": [-2850,-1900,-950,0,950,1900,2850], "labelExpr": "abs(datum.value) % 1900 == 0 ? '' + datum.value : ''", "title": "Channel 2", "labelPadding": 6, "minExtent": 28, "maxExtent": 28, "titlePadding": 3, "labelFontSize": 7, "titleFontSize": 7.5}}}},
    {"mark": {"type": "line", "opacity": 0, "clip": true},
     "encoding": {
      "x": {"field": "t", "type": "quantitative", "axis": {"orient": "bottom", "values": [108,108.5,109,109.5,110,110.5,111], "labels": false, "title": null}},
      "y": {"field": "v", "type": "quantitative", "axis": {"orient": "right", "values": [-2850,-1900,-950,0,950,1900,2850], "labels": false, "title": null}}}}
   ],
   "resolve": {"axis": {"x": "independent", "y": "independent"}}},
  {"width": 317, "height": 59, "data": {"name": "ch1"},
   "transform": [{"filter": "datum.t >= 107.96 && datum.t <= 111.2"}],
   "layer": [
    {"mark": {"type": "line", "color": "#e8283a", "strokeWidth": 0.65, "clip": true},
     "encoding": {
      "x": {"field": "t", "type": "quantitative", "scale": {"domain": [107.96, 111.2], "range": [100, 317], "nice": false, "zero": false},
            "axis": {"orient": "top", "values": [108,108.5,109,109.5,110,110.5,111], "labels": false, "title": null}},
      "y": {"field": "v", "type": "quantitative", "scale": {"domain": [-3800, 3650], "nice": false, "zero": false},
            "axis": {"orient": "left", "offset": -100, "values": [-2850,-1900,-950,0,950,1900,2850], "labelExpr": "abs(datum.value) % 1900 == 0 ? '' + datum.value : ''", "title": "Channel 1", "labelPadding": 6, "minExtent": 28, "maxExtent": 28, "titlePadding": 3, "labelFontSize": 7, "titleFontSize": 7.5}}}},
    {"mark": {"type": "line", "opacity": 0, "clip": true},
     "encoding": {
      "x": {"field": "t", "type": "quantitative", "axis": {"orient": "bottom", "values": [108,108.5,109,109.5,110,110.5,111], "labelExpr": "datum.value % 1 == 0 ? '' + datum.value : ''", "title": "Time (s)", "labelPadding": 4, "titlePadding": 3, "labelFontSize": 7, "titleFontSize": 7.5}},
      "y": {"field": "v", "type": "quantitative", "axis": {"orient": "right", "values": [-2850,-1900,-950,0,950,1900,2850], "labels": false, "title": null}}}}
   ],
   "resolve": {"axis": {"x": "independent", "y": "independent"}}}
]
}
